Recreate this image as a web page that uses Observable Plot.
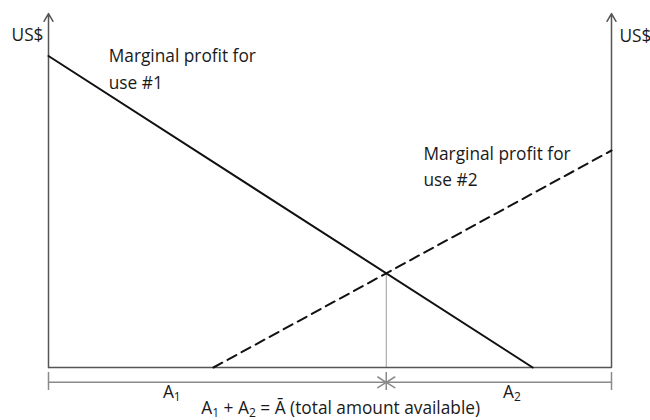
<!DOCTYPE html>
<html>
<head>
<meta charset="utf-8">
<script src="https://cdn.jsdelivr.net/npm/d3@7"></script>
<script src="https://cdn.jsdelivr.net/npm/@observablehq/plot@0.6"></script>
<style>
  html, body { margin: 0; padding: 0; background: #fff; }
  #chart { width: 650px; height: 420px; }
</style>
</head>
<body>
<div id="chart"></div>
<script>
// ---- data (amount allocated to use #1 on x, 0..total; US$ on y) ----
const total = 100;
const profitUse1 = [ {amount: 0, value: 88}, {amount: 86, value: 0} ];      // marginal profit for use #1 (falling)
const profitUse2 = [ {amount: 29.3, value: 0}, {amount: 100, value: 61.3} ]; // marginal profit for use #2 (rising, measured from right)
const axisEnds = [0, total];
const labelUse1 = "Marginal profit for\nuse #1";
const labelUse2 = "Marginal profit for\nuse #2";
const yLabel = "US$";
const labelA1 = "A₁";
const labelA2 = "A₂";
const labelTotal = "A₁ + A₂ = Ā (total amount available)";

// intersection of the two marginal-profit lines = optimal allocation A1
function lineAt(p) { return { m: (p[1].value - p[0].value) / (p[1].amount - p[0].amount), p0: p[0] }; }
const l1 = lineAt(profitUse1), l2 = lineAt(profitUse2);
const a1 = (l2.p0.value - l2.m * l2.p0.amount - (l1.p0.value - l1.m * l1.p0.amount)) / (l1.m - l2.m);
const v1 = l1.p0.value + l1.m * (a1 - l1.p0.amount);

// layout (data units below the baseline for the bracket)
const bracketY = -4.2, tickTop = -1.4, tickBottom = -6.5;

const axisColor = "#555", bracketColor = "#8a8a8a", textColor = "#1a1a1a";

const chart = Plot.plot({
  width: 650,
  height: 420,
  marginLeft: 48,
  marginRight: 39,
  marginTop: 13,
  marginBottom: 53,
  x: {domain: [0, total], axis: null},
  y: {domain: [0, 100], axis: null},
  style: {fontFamily: "'Open Sans', Lato, sans-serif", fontSize: "17.3px", background: "#fff", color: textColor},
  marks: [
    // vertical guide at the optimum
    Plot.ruleX([a1], {x: d => d, y1: 0, y2: v1, stroke: "#9a9a9a", strokeWidth: 1}),
    // baseline
    Plot.ruleY([0], {x1: 0, x2: total, stroke: axisColor, strokeWidth: 1.5}),
    // two vertical US$ axes with arrowheads
    Plot.arrow(axisEnds, {x1: d => d, x2: d => d, y1: () => 0, y2: () => 100, stroke: axisColor, strokeWidth: 1.5, headLength: 9, headAngle: 60}),
    // marginal profit curves
    Plot.line(profitUse1, {x: "amount", y: "value", stroke: "#111", strokeWidth: 2}),
    Plot.line(profitUse2, {x: "amount", y: "value", stroke: "#111", strokeWidth: 2, strokeDasharray: "10,6"}),
    // allocation bracket
    Plot.arrow([{from: 0, to: a1}, {from: total, to: a1}], {x1: "from", x2: "to", y1: () => bracketY, y2: () => bracketY, stroke: bracketColor, strokeWidth: 1.5, headLength: 10, headAngle: 65}),
    Plot.ruleX([0, a1, total], {x: d => d, y1: tickTop, y2: tickBottom, stroke: bracketColor, strokeWidth: 1.5}),
    // texts
    Plot.text([0], {x: d => d, y: () => 93.8, text: () => yLabel, textAnchor: "end", dx: -5, fill: textColor}),
    Plot.text([total], {x: d => d, y: () => 93.5, text: () => yLabel, textAnchor: "start", dx: 8, fill: textColor}),
    Plot.text([labelUse1], {x: () => 10.7, y: () => 84.9, text: d => d, textAnchor: "start", lineHeight: 1.52, fill: textColor}),
    Plot.text([labelUse2], {x: () => 66.6, y: () => 57.3, text: d => d, textAnchor: "start", lineHeight: 1.52, fill: textColor}),
    Plot.text([labelA1], {x: () => 21.9, y: () => -7.0, text: d => d, fill: textColor}),
    Plot.text([labelA2], {x: () => 82.3, y: () => -7.0, text: d => d, fill: textColor}),
    Plot.text([labelTotal], {x: () => total / 2 + 1.9, y: () => -11.5, text: d => d, fill: textColor})
  ]
});

// render subscript digits as real subscripts
d3.select(chart).selectAll("text").each(function() {
  const el = this;
  const targets = el.querySelectorAll("tspan").length ? Array.from(el.querySelectorAll("tspan")) : [el];
  targets.forEach(t => {
    const s = t.textContent;
    if (!/[₁₂]/.test(s)) return;
    while (t.firstChild) t.removeChild(t.firstChild);
    const parts = s.split(/([₁₂])/);
    let shifted = false;
    parts.forEach(p => {
      if (!p) return;
      const ts = document.createElementNS("http://www.w3.org/2000/svg", "tspan");
      if (p === "₁" || p === "₂") {
        ts.textContent = p === "₁" ? "1" : "2";
        ts.setAttribute("font-size", "12px");
        ts.setAttribute("dy", shifted ? "0" : "3");
        shifted = true;
      } else {
        ts.textContent = p;
        if (shifted) { ts.setAttribute("dy", "-3"); shifted = false; }
      }
      t.appendChild(ts);
    });
  });
});

document.getElementById("chart").appendChild(chart);
</script>
</body>
</html>
